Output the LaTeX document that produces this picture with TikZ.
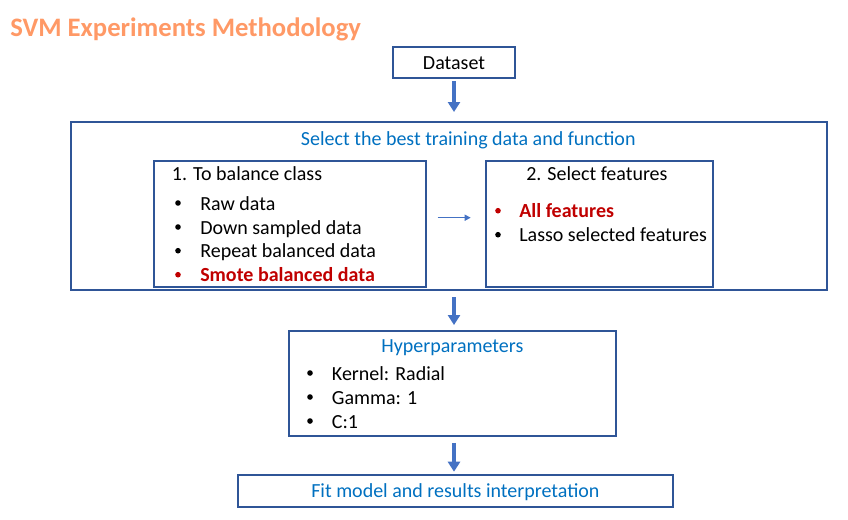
\documentclass[tikz,border=0pt]{standalone}
\usepackage{fontspec}
\setmainfont{Carlito}
\usetikzlibrary{arrows.meta}
\definecolor{boxblue}{HTML}{2F5597}
\definecolor{arrowblue}{HTML}{4472C4}
\definecolor{textblue}{HTML}{0070C0}
\definecolor{redtxt}{HTML}{C00000}
\definecolor{orangetxt}{HTML}{FF9966}
\begin{document}
\begin{tikzpicture}[x=0.75pt,y=-0.75pt,
  frame/.style={draw=boxblue,line width=1.5pt,rectangle,inner sep=0pt},
  txt/.style={anchor=base west,inner sep=0pt,font=\fontsize{15}{18}\selectfont},
  ctxt/.style={anchor=base,inner sep=0pt,font=\fontsize{15}{18}\selectfont},
  bul/.style={circle,fill=black,inner sep=0pt,minimum size=4.2pt},
  bigarrow/.style={draw=arrowblue,line width=2.5pt,-{Triangle[width=9pt,length=7.5pt]}},
  smallarrow/.style={draw=arrowblue,line width=1.1pt,-{Triangle[width=4.5pt,length=4.5pt]}}]
\useasboundingbox (0,0) rectangle (848,519);
\node[anchor=base west,inner sep=0pt,font=\fontsize{20}{24}\selectfont\bfseries,text=orangetxt] (title) at (10,36.7) {SVM Experiments Methodology};

\node[frame,minimum width=91.5pt,minimum height=23.25pt] (dataset) at (454,62.5) {};
\node[ctxt] (datasettxt) at (454,69.5) {Dataset};

\node[frame,minimum width=567pt,minimum height=125.8pt] (big) at (448.7,206.2) {};
\node[txt,text=textblue] (bigtxt) at (300.7,145) {Select the best training data and function};

\node[frame,minimum width=204pt,minimum height=94.5pt] (box1) at (289.7,223.7) {};
\node[txt] (b1t) at (171.7,180.7) {1. To balance class};
\node[bul] (b1a) at (178,203) {};
\node[txt] (b1at) at (200,210) {Raw data};
\node[bul] (b1b) at (178,227) {};
\node[txt] (b1bt) at (200,234) {Down sampled data};
\node[bul] (b1c) at (178,250.7) {};
\node[txt] (b1ct) at (200,257.7) {Repeat balanced data};
\node[bul,fill=redtxt] (b1d) at (178,274.7) {};
\node[txt,text=redtxt,font=\fontsize{15}{18}\selectfont\bfseries] (b1dt) at (200,281.7) {Smote balanced data};

\node[frame,minimum width=170.7pt,minimum height=94.5pt] (box2) at (599.5,223.7) {};
\node[txt] (b2t) at (526,180.7) {2. Select features};
\node[bul,fill=redtxt] (b2a) at (498,210.7) {};
\node[txt,text=redtxt,font=\fontsize{15}{18}\selectfont\bfseries] (b2at) at (519,217.7) {All features};
\node[bul] (b2b) at (498,234.7) {};
\node[txt] (b2bt) at (519,241.7) {Lasso selected features};

\node[frame,minimum width=245pt,minimum height=79pt] (hyper) at (452.35,383.35) {};
\node[ctxt,text=textblue] (hypert) at (452.35,352.7) {Hyperparameters};
\node[bul] (h1) at (310,373) {};
\node[txt] (h1t) at (331.7,380) {Kernel: Radial};
\node[bul] (h2) at (310,397) {};
\node[txt] (h2t) at (331.7,404) {Gamma: 1};
\node[bul] (h3) at (310,421) {};
\node[txt] (h3t) at (331.7,428) {C:1};

\node[frame,minimum width=326.25pt,minimum height=23.8pt] (fit) at (455.8,490.85) {};
\node[ctxt,text=textblue] (fitt) at (455.4,497.3) {Fit model and results interpretation};

\draw[bigarrow,shorten <=1.5pt,shorten >=7pt] (dataset.south) -- (big.north -| dataset.south);
\draw[bigarrow,shorten <=4.5pt,shorten >=3.5pt] (big.south -| dataset.south) -- (hyper.north -| dataset.south);
\draw[bigarrow,shorten <=4.3pt,shorten >=1.7pt] (hyper.south -| dataset.south) -- (fit.north -| dataset.south);
\draw[smallarrow,shorten <=8.25pt,shorten >=10.5pt] ([yshift=4.5pt]box1.east) -- ([yshift=4.5pt]box2.west);
\end{tikzpicture}
\end{document}
